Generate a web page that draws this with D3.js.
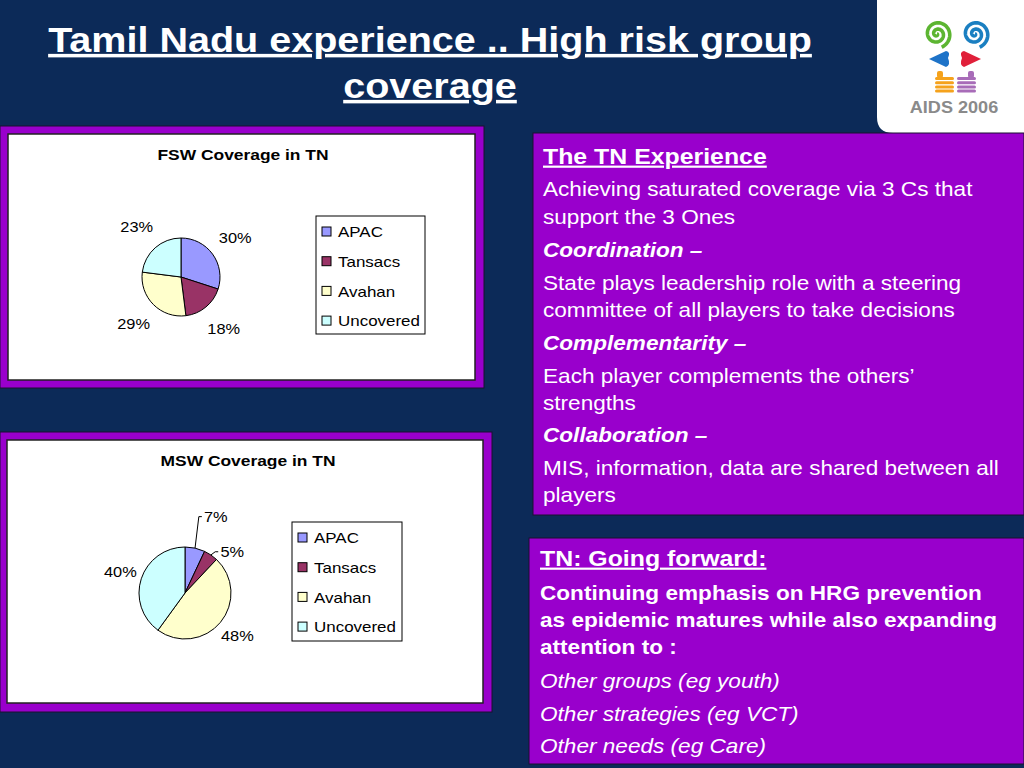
<!DOCTYPE html>
<html>
<head>
<meta charset="utf-8">
<script src="https://cdn.jsdelivr.net/npm/d3@7"></script>
<style>
body { margin: 0; background: #0c2a58; }
svg text { font-family: "Liberation Sans", Arial, sans-serif; }
</style>
</head>
<body>
<div id="slide"></div>
<script>
// chart data
var categories = ["APAC", "Tansacs", "Avahan", "Uncovered"];
var fswValues = [30, 18, 29, 23];
var mswValues = [7, 5, 48, 40];
var sliceColors = ["#9999ff", "#993366", "#ffffcc", "#ccffff"];

// slide text
var titleLines = ["Tamil Nadu experience .. High risk group", "coverage"];
var experienceLines = [
  ["The TN Experience", "head"],
  ["Achieving saturated coverage via 3 Cs that", "plain"],
  ["support the 3 Ones", "plain"],
  ["Coordination \u2013", "bi"],
  ["State plays leadership role with a steering", "plain"],
  ["committee of all players to take decisions", "plain"],
  ["Complementarity \u2013", "bi"],
  ["Each player complements the others\u2019", "plain"],
  ["strengths", "plain"],
  ["Collaboration \u2013", "bi"],
  ["MIS, information, data are shared between all", "plain"],
  ["players", "plain"]
];
var experienceY = [156, 189, 217, 250, 283, 310, 343, 376, 403, 435, 468, 495];
var forwardLines = [
  ["TN: Going forward:", "head"],
  ["Continuing emphasis on HRG prevention", "bold"],
  ["as epidemic matures while also expanding", "bold"],
  ["attention to :", "bold"],
  ["Other groups (eg youth)", "italic"],
  ["Other strategies (eg VCT)", "italic"],
  ["Other needs (eg Care)", "italic"]
];
var forwardY = [558, 593, 620, 647, 681, 714, 746];

var purple = "#9900cc";
var SX = 1.13; // the slide's text is stretched sideways
var svg = d3.select("#slide").append("svg")
    .attr("width", 1024)
    .attr("height", 768);

function at(x, y, sx) {
  return "translate(" + x + "," + y + ") scale(" + (sx || SX) + ",1)";
}

svg.append("rect").attr("width", 1024).attr("height", 768).attr("fill", "#0c2a58");

// title
svg.selectAll("text.title")
    .data(titleLines)
  .enter().append("text")
    .attr("class", "title")
    .attr("transform", function(d, i) { return at(430, 52 + i * 46); })
    .attr("text-anchor", "middle")
    .attr("fill", "white")
    .attr("font-size", 35)
    .attr("font-weight", "bold")
    .style("text-decoration", "underline")
    .text(function(d) { return d; });

// logo
var logo = svg.append("g");
logo.append("path")
    .attr("d", "M877,0 H1024 V133 H893 Q877,133 877,117 Z")
    .attr("fill", "white");
function spiral(cx, cy, turns, rmax) {
  var pts = [];
  for (var t = 0; t <= turns * 2 * Math.PI; t += 0.1) {
    var r = rmax * t / (turns * 2 * Math.PI);
    pts.push([cx + r * Math.cos(t), cy + r * Math.sin(t)]);
  }
  return d3.line()(pts);
}
logo.append("path").attr("d", spiral(937, 34, 2.2, 14))
    .attr("fill", "none").attr("stroke", "#5cb531").attr("stroke-width", 3.6);
logo.append("path").attr("d", spiral(975, 34, 2.2, 14))
    .attr("fill", "none").attr("stroke", "#1a7fc1").attr("stroke-width", 3.6);
logo.append("path")
    .attr("d", "M929,59 L946,51 Q951,52 948,58 Q951,65 946,67 Z")
    .attr("fill", "#1e73c8");
logo.append("path")
    .attr("d", "M981,59 L964,51 Q959,52 962,58 Q959,65 964,67 Z")
    .attr("fill", "#e0203a");
[[935, "#f5a21c", 2], [957, "#a86cb8", 11]].forEach(function(h) {
  for (var k = 0; k < 4; k++) {
    logo.append("rect").attr("x", h[0]).attr("y", 77 + k * 4.2)
        .attr("width", 19).attr("height", 3).attr("rx", 1.5).attr("fill", h[1]);
  }
  logo.append("rect").attr("x", h[0] + h[2]).attr("y", 71)
      .attr("width", 6).attr("height", 7).attr("rx", 2).attr("fill", h[1]);
});
logo.append("text")
    .attr("transform", at(954, 113))
    .attr("text-anchor", "middle")
    .attr("font-size", 16)
    .attr("font-weight", "bold")
    .attr("fill", "#8a8a8a")
    .text("AIDS 2006");

// pie panels
function piePanel(cfg) {
  var g = svg.append("g");
  g.append("rect")
      .attr("x", cfg.frame[0]).attr("y", cfg.frame[1])
      .attr("width", cfg.frame[2]).attr("height", cfg.frame[3])
      .attr("fill", purple).attr("stroke", "#1a1030").attr("stroke-width", 1);
  g.append("rect")
      .attr("x", cfg.inner[0]).attr("y", cfg.inner[1])
      .attr("width", cfg.inner[2]).attr("height", cfg.inner[3])
      .attr("fill", "white").attr("stroke", "#222").attr("stroke-width", 1.5);
  g.append("text")
      .attr("transform", at(cfg.titleX, cfg.inner[1] + 26, 1.16))
      .attr("text-anchor", "middle")
      .attr("font-size", 15)
      .attr("font-weight", "bold")
      .text(cfg.title);

  var pie = d3.pie().sort(null).value(function(d) { return d; });
  var arcs = pie(cfg.values);
  var arc = d3.arc().innerRadius(0).outerRadius(cfg.r);
  var pg = g.append("g").attr("transform", "translate(" + cfg.cx + "," + cfg.cy + ")");
  pg.selectAll("path")
      .data(arcs)
    .enter().append("path")
      .attr("d", arc)
      .attr("fill", function(d, i) { return sliceColors[i]; })
      .attr("stroke", "black")
      .attr("stroke-width", 1);

  var labelArc = d3.arc().innerRadius(cfg.r + cfg.labelOff).outerRadius(cfg.r + cfg.labelOff);
  arcs.forEach(function(d, i) {
    var c = labelArc.centroid(d);
    var s = cfg.shift[i];
    var lx = c[0] + s[0], ly = c[1] + s[1];
    if (s[0] !== 0 || s[1] !== 0) {
      var mid = (d.startAngle + d.endAngle) / 2;
      var ex = cfg.r * Math.sin(mid), ey = -cfg.r * Math.cos(mid);
      var tx = lx - 14;
      pg.append("path")
          .attr("d", d3.line()([[ex, ey], [tx - 3, ly], [tx, ly]]))
          .attr("fill", "none").attr("stroke", "black").attr("stroke-width", 1);
    }
    pg.append("text")
        .attr("transform", at(lx, ly))
        .attr("dy", "0.35em")
        .attr("text-anchor", "middle")
        .attr("font-size", 14.5)
        .text(cfg.values[i] + "%");
  });

  var lg = g.append("g").attr("transform", "translate(" + cfg.legend[0] + "," + cfg.legend[1] + ")");
  lg.append("rect")
      .attr("width", cfg.legend[2]).attr("height", cfg.legend[3])
      .attr("fill", "white").attr("stroke", "black").attr("stroke-width", 1);
  var item = lg.selectAll("g.item")
      .data(categories)
    .enter().append("g")
      .attr("class", "item")
      .attr("transform", function(d, i) { return "translate(6," + (16 + i * 29.7) + ")"; });
  item.append("rect")
      .attr("x", 0).attr("y", -5).attr("width", 9).attr("height", 9)
      .attr("fill", function(d, i) { return sliceColors[i]; })
      .attr("stroke", "black").attr("stroke-width", 1);
  item.append("text")
      .attr("transform", at(16, 0))
      .attr("dy", "0.35em")
      .attr("font-size", 15)
      .text(function(d) { return d; });
}

piePanel({
  frame: [0, 126, 484, 262], inner: [8, 134, 467, 246], titleX: 243,
  title: "FSW Coverage in TN", values: fswValues,
  cx: 181, cy: 277, r: 39, labelOff: 28,
  shift: [[0, 0], [0, 0], [0, 0], [0, 0]],
  legend: [316, 216, 109, 118]
});
piePanel({
  frame: [0, 432, 492, 280], inner: [7, 440, 476, 263], titleX: 248,
  title: "MSW Coverage in TN", values: mswValues,
  cx: 185, cy: 593, r: 46, labelOff: 22,
  shift: [[16, -10], [9, 15], [0, 0], [0, 0]],
  legend: [292, 522, 110, 119]
});

// right text boxes
function textBox(x, y, w, h, tx, lines, ys) {
  svg.append("rect").attr("x", x).attr("y", y).attr("width", w).attr("height", h)
      .attr("fill", purple).attr("stroke", "#1a1030").attr("stroke-width", 1);
  svg.selectAll(null)
      .data(lines)
    .enter().append("text")
      .attr("transform", function(d, i) { return at(tx, ys[i]); })
      .attr("dy", "0.35em")
      .attr("fill", "white")
      .attr("font-size", function(d) { return d[1] === "head" ? 22 : 20; })
      .attr("font-weight", function(d) { return (d[1] === "head" || d[1] === "bold" || d[1] === "bi") ? "bold" : "normal"; })
      .attr("font-style", function(d) { return (d[1] === "bi" || d[1] === "italic") ? "italic" : "normal"; })
      .style("text-decoration", function(d) { return d[1] === "head" ? "underline" : "none"; })
      .text(function(d) { return d[0]; });
}
textBox(533, 133, 491, 382, 543, experienceLines, experienceY);
textBox(529, 538, 495, 226, 540, forwardLines, forwardY);
</script>
</body>
</html>
